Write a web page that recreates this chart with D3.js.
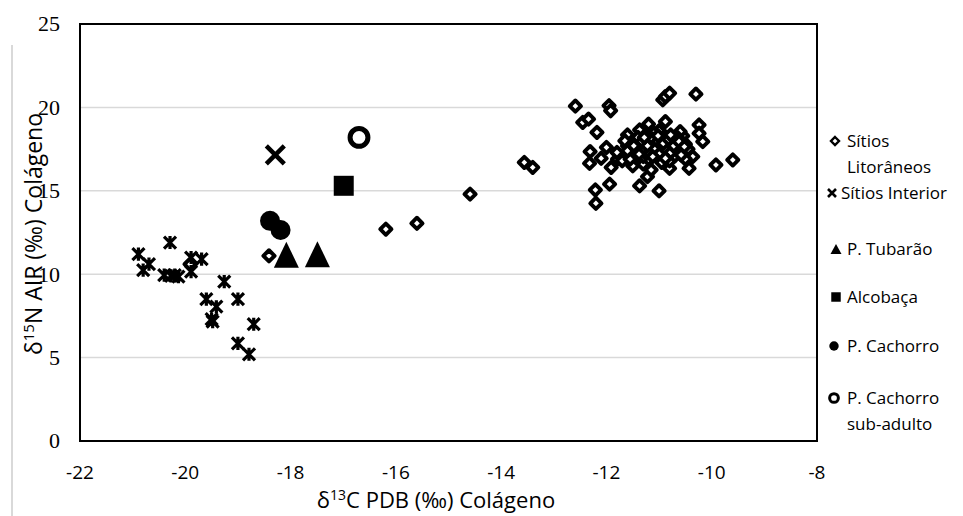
<!DOCTYPE html>
<meta charset="utf-8">
<style>
body { margin: 0; background: #fff; }
</style>
<body>
<script src="https://cdn.jsdelivr.net/npm/d3@7"></script>
<script>

// data: [d13C, d15N]
var litoraneos = [
  [-19.91, 10.6], [-18.41, 11.1], [-16.19, 12.7], [-15.6, 13.05], [-14.59, 14.8],
  [-13.56, 16.7], [-13.4, 16.4], [-12.59, 20.08], [-11.95, 20.1], [-11.92, 19.8],
  [-12.45, 19.1], [-12.34, 19.3], [-12.18, 18.5], [-12.31, 17.35], [-12.0, 17.6],
  [-12.1, 16.95], [-12.32, 16.65], [-11.79, 16.9], [-11.91, 16.4], [-11.94, 15.4],
  [-12.21, 15.05], [-12.2, 14.25], [-11.37, 15.3], [-11.0, 15.0], [-11.22, 15.85],
  [-11.6, 18.35], [-11.37, 18.65], [-11.2, 19.0], [-10.93, 20.45], [-10.88, 19.15],
  [-10.88, 20.65], [-10.8, 20.85], [-10.3, 20.8], [-10.24, 18.95], [-10.17, 17.95],
  [-10.24, 18.45], [-10.36, 17.05], [-10.43, 16.35], [-9.92, 16.55], [-9.6, 16.85],
  [-10.8, 16.35], [-11.15, 16.25], [-11.3, 16.6], [-11.5, 17.5], [-11.3, 17.8],
  [-11.1, 17.2], [-10.9, 17.6], [-10.7, 18.0], [-10.9, 18.3], [-11.2, 18.1],
  [-11.4, 17.0], [-10.6, 17.3], [-10.8, 16.8], [-11.6, 17.7], [-11.0, 18.6],
  [-10.5, 17.8], [-11.7, 16.8], [-11.8, 17.3], [-11.5, 16.5], [-11.05, 17.9],
  [-10.75, 17.4], [-11.25, 17.55], [-10.55, 18.3], [-11.45, 18.0],
  [-11.35, 17.3], [-11.15, 17.65], [-10.95, 17.05], [-10.65, 17.65], [-11.25, 18.35],
  [-10.85, 17.9], [-11.55, 17.15], [-10.45, 17.5], [-11.0, 17.4], [-11.4, 17.65],
  [-10.7, 17.1], [-11.1, 18.45], [-10.6, 18.55], [-11.65, 18.0], [-11.2, 16.9],
  [-10.95, 16.7], [-11.55, 16.9], [-10.5, 16.9],
  [-11.45, 17.35], [-11.3, 17.05], [-11.15, 17.45], [-11.05, 17.15], [-10.9, 17.35],
  [-10.8, 17.65], [-10.7, 17.85], [-11.0, 17.75], [-11.2, 17.85], [-11.35, 17.6],
  [-10.85, 17.2], [-10.6, 17.5], [-11.5, 17.8], [-11.25, 17.25], [-10.75, 17.95],
  [-11.1, 17.95], [-10.95, 18.1], [-11.4, 18.2], [-10.65, 18.2], [-11.6, 17.4],
  [-11.42, 17.5], [-11.28, 17.4], [-11.18, 17.3], [-11.08, 17.55], [-10.98, 17.25],
  [-10.88, 17.5], [-10.78, 17.3], [-10.68, 17.55], [-11.32, 17.95], [-11.22, 17.7],
  [-11.12, 18.1], [-11.02, 17.95], [-10.92, 17.85], [-10.82, 18.1], [-10.72, 17.7],
  [-10.62, 17.95], [-11.38, 17.2], [-11.12, 17.05], [-10.88, 16.95], [-10.58, 17.15],
  [-11.48, 17.7], [-10.52, 17.65], [-11.02, 18.3], [-10.78, 18.35], [-11.28, 18.2]
];
var interior = [
  [-20.89, 11.2], [-20.69, 10.6], [-20.8, 10.25], [-20.29, 11.9], [-20.4, 9.95],
  [-20.27, 9.9], [-20.13, 9.85], [-20.2, 9.95], [-19.89, 11.0], [-19.69, 10.9],
  [-19.89, 10.15], [-19.26, 9.55], [-19.6, 8.5], [-19.41, 8.05], [-19.0, 8.5],
  [-19.48, 7.15], [-19.5, 7.3], [-18.7, 7.0], [-19.0, 5.85], [-18.79, 5.2]
];
var interiorX = [[-18.29, 17.15]];
var tubarao = [[-18.08, 11.17], [-17.49, 11.2]];
var alcobaca = [[-16.99, 15.3]];
var cachorro = [[-18.39, 13.2], [-18.19, 12.65]];
var cachorroSub = [[-16.7, 18.2]];

var xTicks = [-22, -20, -18, -16, -14, -12, -10, -8];
var yTicks = [0, 5, 10, 15, 20, 25];

var sans = "'Open Sans', sans-serif";
var serif = "'Liberation Serif', 'DejaVu Serif', serif";

var width = 963, height = 516;
var x = d3.scaleLinear().domain([-22, -8]).range([80, 817]);
var y = d3.scaleLinear().domain([0, 25]).range([441, 24]);

var svg = d3.select("body").append("svg")
    .attr("width", width)
    .attr("height", height);

// faint outer frame line on the left
svg.append("line")
    .attr("x1", 12).attr("x2", 12).attr("y1", 45).attr("y2", height)
    .attr("stroke", "#d9d9d9").attr("stroke-width", 2);

// gridlines
svg.append("g").selectAll("line")
    .data(yTicks.slice(1, -1))
    .enter().append("line")
    .attr("x1", x(-22)).attr("x2", x(-8))
    .attr("y1", function(d) { return y(d); })
    .attr("y2", function(d) { return y(d); })
    .attr("stroke", "#d9d9d9").attr("stroke-width", 1.5);

// plot box
svg.append("rect")
    .attr("x", x(-22)).attr("y", y(25))
    .attr("width", x(-8) - x(-22)).attr("height", y(0) - y(25))
    .attr("fill", "none").attr("stroke", "#000").attr("stroke-width", 2);

// y tick labels (serif in the original)
svg.append("g").selectAll("text")
    .data(yTicks)
    .enter().append("text")
    .attr("x", 60)
    .attr("y", function(d) { return y(d); })
    .attr("dy", "0.34em")
    .attr("text-anchor", "end")
    .attr("font-family", serif)
    .attr("font-size", 22)
    .text(function(d) { return d; });

// x tick labels
svg.append("g").selectAll("text")
    .data(xTicks)
    .enter().append("text")
    .attr("x", function(d) { return x(d); })
    .attr("y", 472)
    .attr("dy", "0.35em")
    .attr("text-anchor", "middle")
    .attr("font-family", sans)
    .attr("font-size", 19)
    .text(function(d) { return d; });

// axis titles
var xt = svg.append("text")
    .attr("x", 436).attr("y", 508)
    .attr("text-anchor", "middle")
    .attr("font-family", sans)
    .attr("font-size", 22);
xt.append("tspan").text("δ");
xt.append("tspan").attr("dy", -8).attr("font-size", 14).text("13");
xt.append("tspan").attr("dy", 8).text("C PDB (‰) Colágeno");

var yt = svg.append("text")
    .attr("transform", "translate(42,234) rotate(-90)")
    .attr("text-anchor", "middle")
    .attr("font-family", sans)
    .attr("font-size", 23);
yt.append("tspan").text("δ");
yt.append("tspan").attr("dy", -8).attr("font-size", 15).text("15");
yt.append("tspan").attr("dy", 8).text("N AIR (‰) Colágeno");

// marker shapes
function diamond(r) {
  return "M0," + (-r) + "L" + r + ",0L0," + r + "L" + (-r) + ",0Z";
}
function star(r) {
  return "M" + (-r) + "," + (-r) + "L" + r + "," + r +
         "M" + r + "," + (-r) + "L" + (-r) + "," + r +
         "M0," + (-r * 1.1) + "L0," + (r * 1.1);
}
function cross(r) {
  return "M" + (-r) + "," + (-r) + "L" + r + "," + r +
         "M" + r + "," + (-r) + "L" + (-r) + "," + r;
}
function triangle(w, h) {
  return "M0," + (-h / 2) + "L" + (w / 2) + "," + (h / 2) + "L" + (-w / 2) + "," + (h / 2) + "Z";
}

function plot(data, path, fill, stroke, sw) {
  svg.append("g").selectAll("path")
      .data(data)
      .enter().append("path")
      .attr("transform", function(d) { return "translate(" + x(d[0]) + "," + y(d[1]) + ")"; })
      .attr("d", path)
      .attr("fill", fill)
      .attr("stroke", stroke)
      .attr("stroke-width", sw)
      .attr("stroke-linejoin", "round");
}

plot(litoraneos, diamond(5.6), "#fff", "#000", 3.9);
plot(interior, star(6), "none", "#000", 3.2);
plot(interiorX, cross(9), "none", "#000", 4.5);
plot(tubarao, triangle(25, 26), "#000", "none", 0);
plot(alcobaca, d3.symbol(d3.symbolSquare, 400)(), "#000", "none", 0);
plot(cachorro, d3.symbol(d3.symbolCircle, 314)(), "#000", "none", 0);
plot(cachorroSub, d3.symbol(d3.symbolCircle, 250)(), "#fff", "#000", 5);

// legend
var legendItems = [
  { lines: ["Sítios", "Litorâneos"], y: 141, path: diamond(4), fill: "#fff", stroke: "#000", sw: 2.4, mx: 835, tx: 847 },
  { lines: ["Sítios Interior"], y: 193, path: cross(4), fill: "none", stroke: "#000", sw: 2.6, mx: 832, tx: 841 },
  { lines: ["P. Tubarão"], y: 249, path: triangle(11, 10), fill: "#000", stroke: "none", sw: 0, mx: 836, tx: 847 },
  { lines: ["Alcobaça"], y: 297, path: d3.symbol(d3.symbolSquare, 90)(), fill: "#000", stroke: "none", sw: 0, mx: 836, tx: 847 },
  { lines: ["P. Cachorro"], y: 346, path: d3.symbol(d3.symbolCircle, 70)(), fill: "#000", stroke: "none", sw: 0, mx: 834, tx: 847 },
  { lines: ["P. Cachorro", "sub-adulto"], y: 398, path: d3.symbol(d3.symbolCircle, 60)(), fill: "#fff", stroke: "#000", sw: 3, mx: 834, tx: 847 }
];

var leg = svg.append("g").selectAll("g")
    .data(legendItems)
    .enter().append("g");

leg.append("path")
    .attr("transform", function(d) { return "translate(" + d.mx + "," + d.y + ")"; })
    .attr("d", function(d) { return d.path; })
    .attr("fill", function(d) { return d.fill; })
    .attr("stroke", function(d) { return d.stroke; })
    .attr("stroke-width", function(d) { return d.sw; });

leg.each(function(d) {
  var t = d3.select(this).append("text")
      .attr("font-family", sans)
      .attr("font-size", 17);
  d.lines.forEach(function(l, i) {
    t.append("tspan")
        .attr("x", d.tx)
        .attr("y", d.y + i * 26)
        .attr("dy", "0.35em")
        .text(l);
  });
});

</script>
</body>
